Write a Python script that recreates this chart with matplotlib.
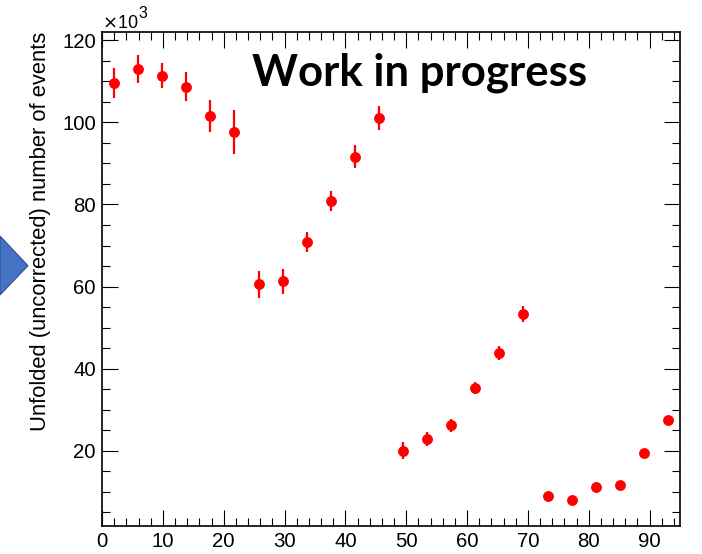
import matplotlib
matplotlib.use("Agg")
import matplotlib.pyplot as plt
from matplotlib.ticker import MultipleLocator
from matplotlib.patches import Polygon

plt.rcParams['font.family'] = ['Liberation Sans', 'DejaVu Sans']

# bin centres (24 bins over 0..95)
x_centres = [1.98, 5.94, 9.90, 13.85, 17.81, 21.77, 25.73, 29.69, 33.65, 37.60, 41.56, 45.52,
             49.48, 53.44, 57.40, 61.35, 65.31, 69.27, 73.23, 77.19, 81.15, 85.10, 89.06, 93.02]
# unfolded counts, in units of 10^3
counts = [109.6, 113.0, 111.4, 108.7, 101.6, 97.6, 60.6, 61.3, 70.9, 80.9, 91.6, 101.0,
          20.0, 22.9, 26.2, 35.3, 43.8, 53.3, 8.9, 8.0, 11.3, 11.8, 19.5, 27.4]
errors = [3.6, 3.4, 3.1, 3.5, 3.9, 5.4, 3.3, 3.0, 2.5, 2.5, 2.8, 2.9,
          2.1, 1.8, 1.6, 1.5, 1.7, 2.0, 0.5, 0.5, 0.5, 0.5, 0.5, 0.6]

fig = plt.figure(figsize=(7.02, 5.54), dpi=100)
ax = fig.add_axes([102/702, 28/554, 578/702, 494/554])

ax.errorbar(x_centres, counts, yerr=errors, fmt='o', color='#ff0000',
            markersize=6.8, elinewidth=1.6, capsize=0)

ax.set_xlim(0, 95)
ax.set_ylim(1.7, 122)
ax.xaxis.set_major_locator(MultipleLocator(10))
ax.xaxis.set_minor_locator(MultipleLocator(2))
ax.yaxis.set_major_locator(MultipleLocator(20))
ax.yaxis.set_minor_locator(MultipleLocator(5))

# ROOT style ticks: inside, on all four sides
ax.tick_params(which='both', direction='in', top=True, right=True, width=0.8, labelsize=14.7)
ax.tick_params(which='major', length=11.5)
ax.tick_params(which='minor', length=5.8)
ax.tick_params(axis='y', pad=4.5)
ax.tick_params(axis='x', pad=4)
for s in ax.spines.values():
    s.set_linewidth(1.2)

ax.set_ylabel('Unfolded (uncorrected) number of events', fontsize=15.8, loc='top')
ax.yaxis.set_label_coords(-0.088, 1.0)

# x10^3 multiplier
ax.text(0.0, 1.008, r'$\times$10', transform=ax.transAxes, fontsize=13,
        ha='left', va='baseline')
ax.text(0.0625, 1.028, '3', transform=ax.transAxes, fontsize=11.5,
        ha='left', va='baseline')

ax.text(0.2595, 0.8927, 'Work in progress', transform=ax.transAxes,
        fontsize=31.5, fontweight='bold', family=['Lato', 'DejaVu Sans'],
        ha='left', va='baseline')

# blue arrow tip peeking in from the slide on the left
pts = [(0, 236), (28, 265.7), (0, 295)]
arrow = Polygon([(px/702, 1 - py/554) for px, py in pts], closed=True,
                transform=fig.transFigure, facecolor='#4472C4', edgecolor='#2F528F',
                linewidth=0.8)
fig.patches.append(arrow)

fig.savefig('out.png', dpi=100)
